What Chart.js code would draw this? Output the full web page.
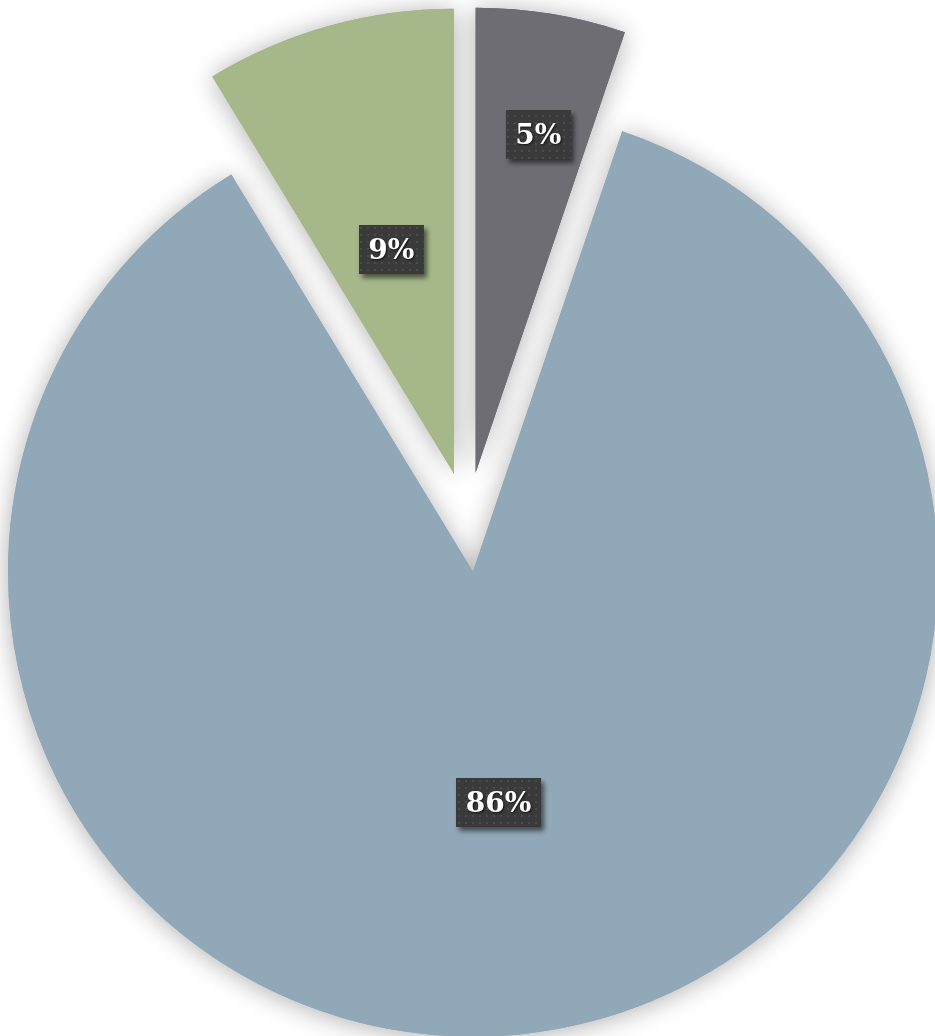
<!DOCTYPE html>
<html>
<head>
<meta charset="utf-8">
<script src="https://cdn.jsdelivr.net/npm/chart.js@4.4.1/dist/chart.umd.min.js"></script>
<style>
  html, body { margin: 0; padding: 0; background: #ffffff; overflow: hidden; }
  #wrap { width: 935px; height: 1036px; position: relative; }
</style>
</head>
<body>
<div id="wrap"><canvas id="pie"></canvas></div>
<script>
// slices, clockwise from 12 o'clock
const categories = ["A", "B", "C"];
const shares = [5.2, 86.1, 8.7];
const labelTexts = ["5%", "86%", "9%"];
const sliceColors = ["#6e6d73", "#91a8b8", "#a6b78a"];

const EXPLODE = 50;

function midAngle(arc) {
  const p = arc.getProps(['startAngle', 'endAngle']);
  return (p.startAngle + p.endAngle) / 2;
}

// every slice pulled out from the centre, with a soft glow behind it
const explodePlugin = {
  id: 'explode',
  beforeDatasetsDraw(chart) {
    const ctx = chart.ctx;
    const meta = chart.getDatasetMeta(0);
    // shadows first so no slice darkens a neighbour
    meta.data.forEach(arc => {
      const a = midAngle(arc);
      ctx.save();
      ctx.translate(Math.cos(a) * EXPLODE, Math.sin(a) * EXPLODE);
      ctx.shadowColor = 'rgba(0,0,0,0.32)';
      ctx.shadowBlur = 26;
      ctx.shadowOffsetY = 2;
      arc.draw(ctx);
      ctx.restore();
    });
    meta.data.forEach(arc => {
      const a = midAngle(arc);
      ctx.save();
      ctx.translate(Math.cos(a) * EXPLODE, Math.sin(a) * EXPLODE);
      arc.draw(ctx);
      ctx.restore();
    });
    return false;
  }
};

function makeDots(ctx) {
  const c = document.createElement('canvas');
  c.width = 7; c.height = 7;
  const p = c.getContext('2d');
  p.fillStyle = '#3a3a3a';
  p.fillRect(0, 0, 7, 7);
  p.fillStyle = '#4b4b4b';
  p.fillRect(3, 3, 2, 2);
  return ctx.createPattern(c, 'repeat');
}

// boxed percentage labels
const boxLabels = {
  id: 'boxLabels',
  afterDraw(chart, args, opts) {
    const ctx = chart.ctx;
    const meta = chart.getDatasetMeta(0);
    const pattern = makeDots(ctx);
    ctx.save();
    ctx.font = 'bold 28px "DejaVu Serif"';
    ctx.textAlign = 'center';
    ctx.textBaseline = 'middle';
    meta.data.forEach((arc, i) => {
      const p = arc.getProps(['x', 'y', 'outerRadius']);
      const mid = midAngle(arc) + opts.turn[i] * Math.PI / 180;
      const dist = EXPLODE + opts.radii[i] * p.outerRadius;
      const cx = p.x + Math.cos(mid) * dist;
      const cy = p.y + Math.sin(mid) * dist;
      const text = labelTexts[i];
      const w = ctx.measureText(text).width + 19;
      const h = 49;
      ctx.save();
      ctx.shadowColor = 'rgba(0,0,0,0.55)';
      ctx.shadowBlur = 5;
      ctx.shadowOffsetX = 3;
      ctx.shadowOffsetY = 4;
      ctx.fillStyle = pattern;
      ctx.fillRect(Math.round(cx - w / 2), Math.round(cy - h / 2), Math.round(w), h);
      ctx.restore();
      ctx.save();
      ctx.shadowColor = 'rgba(0,0,0,0.7)';
      ctx.shadowBlur = 2;
      ctx.shadowOffsetX = 1;
      ctx.shadowOffsetY = 1;
      ctx.fillStyle = '#ffffff';
      ctx.fillText(text, cx, cy + 2);
      ctx.restore();
    });
    ctx.restore();
  }
};

new Chart(document.getElementById('pie'), {
  type: 'pie',
  data: {
    labels: categories,
    datasets: [{
      data: shares,
      backgroundColor: sliceColors,
      borderWidth: 0,
      offset: 0,
      hoverOffset: 0
    }]
  },
  options: {
    responsive: true,
    maintainAspectRatio: false,
    animation: false,
    radius: 465,
    layout: { padding: { top: 8 } },
    events: [],
    plugins: {
      legend: { display: false },
      tooltip: { enabled: false },
      boxLabels: { radii: [0.74, 0.5, 0.5], turn: [1, 0, 0] }
    }
  },
  plugins: [explodePlugin, boxLabels]
});
</script>
</body>
</html>
